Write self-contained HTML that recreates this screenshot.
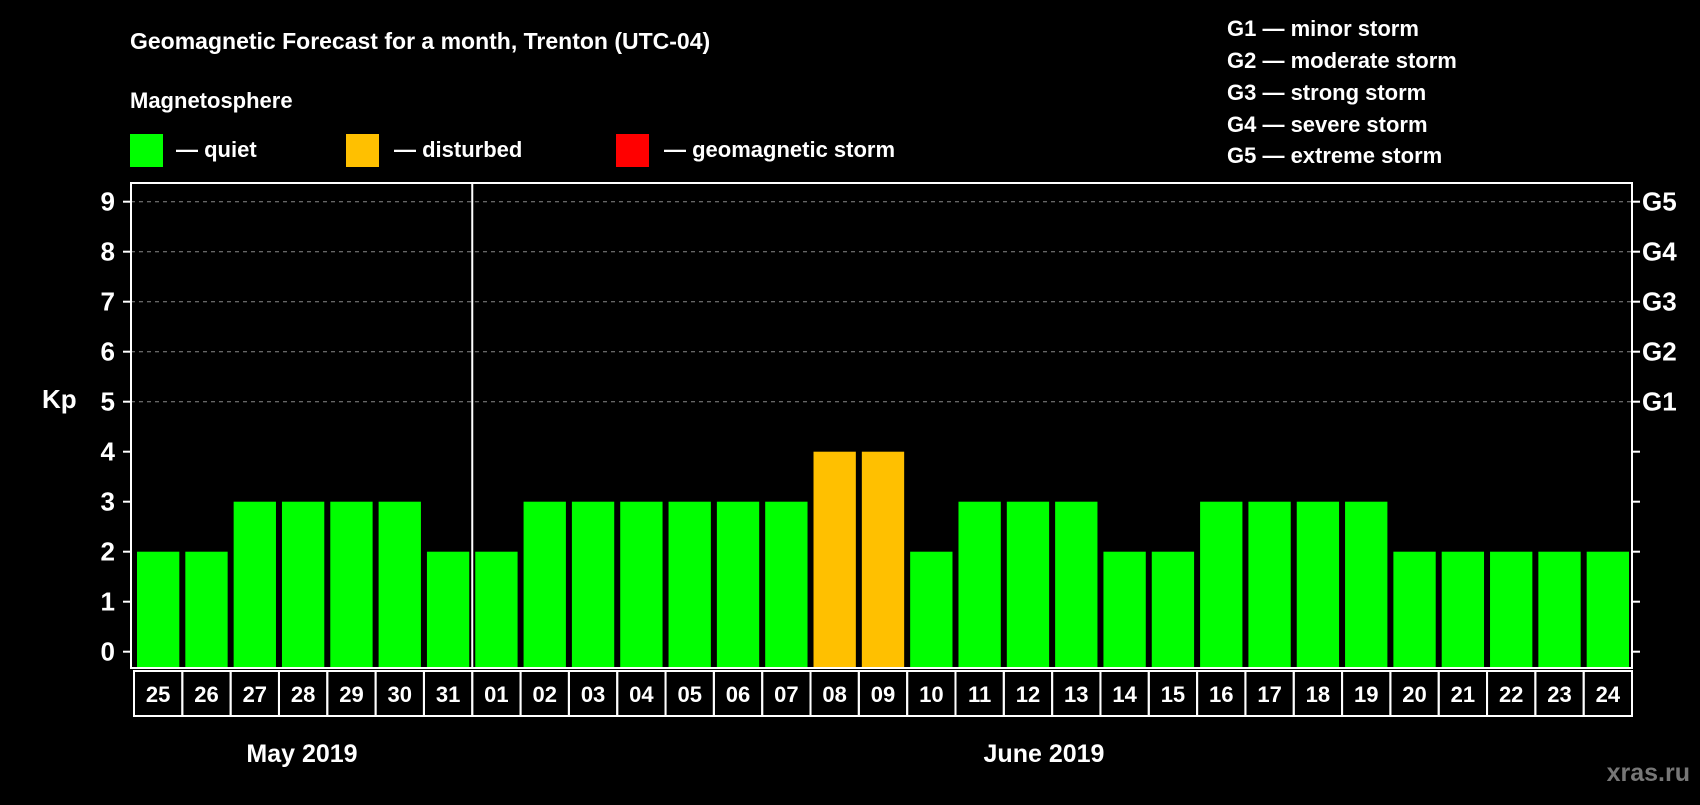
<!DOCTYPE html>
<html><head><meta charset="utf-8"><style>
body{margin:0;background:#000;width:1700px;height:800px;overflow:hidden}
svg text{font-family:"Liberation Sans",Arial,sans-serif;font-weight:bold;fill:#fff}
</style></head><body>
<svg width="1700" height="800" id="chart">
<text x="130" y="49" font-size="23">Geomagnetic Forecast for a month, Trenton (UTC-04)</text>
<text x="130" y="108" font-size="22">Magnetosphere</text>
<rect x="130" y="134" width="33" height="33" fill="#00ff00"/>
<text x="176" y="157" font-size="22">— quiet</text>
<rect x="346" y="134" width="33" height="33" fill="#ffc000"/>
<text x="394" y="157" font-size="22">— disturbed</text>
<rect x="616" y="134" width="33" height="33" fill="#ff0000"/>
<text x="664" y="157" font-size="22">— geomagnetic storm</text>
<g font-size="22">
<text x="1227" y="36">G1 — minor storm</text>
<text x="1227" y="68">G2 — moderate storm</text>
<text x="1227" y="100">G3 — strong storm</text>
<text x="1227" y="132">G4 — severe storm</text>
<text x="1227" y="163">G5 — extreme storm</text>
</g>
<text x="42" y="408" font-size="26">Kp</text>
<text x="302" y="762" font-size="25" text-anchor="middle">May 2019</text>
<text x="1044" y="762" font-size="25" text-anchor="middle">June 2019</text>
<text x="1690" y="781" font-size="25" text-anchor="end" style="fill:#777">xras.ru</text>
<g id="plot"></g>
</svg>
<script>
const days=["25","26","27","28","29","30","31","01","02","03","04","05","06","07","08","09","10","11","12","13","14","15","16","17","18","19","20","21","22","23","24"];
const kp=[2,2,3,3,3,3,2,2,3,3,3,3,3,3,4,4,2,3,3,3,2,2,3,3,3,3,2,2,2,2,2];
const yTicks=[0,1,2,3,4,5,6,7,8,9];
const gLabels=["G1","G2","G3","G4","G5"];
const gLevels=[5,6,7,8,9];
const NS="http://www.w3.org/2000/svg";
const g=document.getElementById('plot');
const L=131,R=1632,T=183,B=668,x0=134,pitch=(R-x0)/days.length;
const y=v=>651.7-50*v;
const x=i=>x0+pitch*i;
function mk(t,a){const e=document.createElementNS(NS,t);for(const k in a)e.setAttribute(k,a[k]);g.appendChild(e);return e;}
yTicks.forEach(v=>{
 if(v>=5){const l=mk('line',{x1:L,x2:R,y1:y(v),y2:y(v),stroke:'#888','stroke-dasharray':'4,4','stroke-width':1});
 
 }
 const t1=mk('line',{x1:L-8,x2:L,y1:y(v),y2:y(v),stroke:'#fff','stroke-width':2});
 
 
 const t2=mk('line',{x1:R,x2:R+8,y1:y(v),y2:y(v),stroke:'#fff','stroke-width':2});
 
 
 const tx=mk('text',{x:115,y:y(v)+9,'font-size':26,'text-anchor':'end'});tx.textContent=v;
 
 
});
gLabels.forEach((s,i)=>{const tx=mk('text',{x:1642,y:y(gLevels[i])+9,'font-size':26});tx.textContent=s;
 
 });
kp.forEach((v,i)=>{
 const col=v>=5?'#ff0000':(v>=4?'#ffc000':'#00ff00');
 const r=mk('rect',{x:x(i)+3,y:y(v),width:pitch-6,height:B-y(v)-1,fill:col});
 
 
 const bx=mk('rect',{x:x(i),y:B+3,width:pitch,height:45,fill:'none',stroke:'#fff','stroke-width':2});
 
 
 const t=mk('text',{x:x(i)+pitch/2,y:B+34,'font-size':22,'text-anchor':'middle'});t.textContent=days[i];
 
 
});
const fr=mk('rect',{x:L,y:T,width:R-L,height:B-T,fill:'none',stroke:'#fff','stroke-width':2});


const dv=mk('line',{x1:x(7),x2:x(7),y1:T,y2:B,stroke:'#fff','stroke-width':2});


</script>
</body></html>
